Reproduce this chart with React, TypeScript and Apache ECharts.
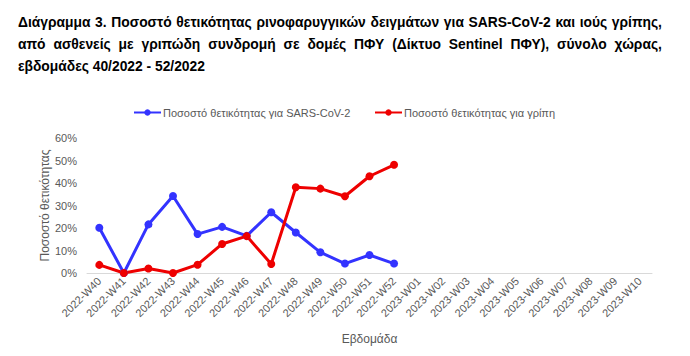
import React, { useEffect, useRef } from "react";
import * as echarts from "echarts";

const weeks = [
  "2022-W40", "2022-W41", "2022-W42", "2022-W43", "2022-W44", "2022-W45", "2022-W46",
  "2022-W47", "2022-W48", "2022-W49", "2022-W50", "2022-W51", "2022-W52",
  "2023-W01", "2023-W02", "2023-W03", "2023-W04", "2023-W05", "2023-W06",
  "2023-W07", "2023-W08", "2023-W09", "2023-W10",
];
const covidValues = [20.1, 0, 21.6, 34.2, 17.3, 20.5, 16.5, 27.0, 18.0, 9.2, 4.2, 8.0, 4.2];
const fluValues = [3.6, 0, 2.0, 0, 3.7, 12.9, 16.4, 4.0, 38.1, 37.5, 34.1, 43.0, 48.1];
const covidName = "Ποσοστό θετικότητας για SARS-CoV-2";
const fluName = "Ποσοστό θετικότητας για γρίπη";
const titleLines = [
  "Διάγραμμα 3. Ποσοστό θετικότητας ρινοφαρυγγικών δειγμάτων για SARS-CoV-2 και ιούς γρίπης,",
  "από ασθενείς με γριπώδη συνδρομή σε δομές ΠΦΥ (Δίκτυο Sentinel ΠΦΥ), σύνολο χώρας,",
  "εβδομάδες 40/2022 - 52/2022",
];
const yAxisName = "Ποσοστό θετικότητας";
const xAxisName = "Εβδομάδα";

const FONT = "'Liberation Sans', sans-serif";

function measure(text: string, font: string) {
  const c = document.createElement("canvas").getContext("2d")!;
  c.font = font;
  return c.measureText(text).width;
}

export default function App() {
  const ref = useRef<HTMLDivElement>(null);
  useEffect(() => {
    const chart = echarts.init(ref.current!, undefined, { renderer: "svg" });
    const titleFont = `bold 14.5px ${FONT}`;
    const graphics: any[] = [];
    const left = 18, right = 662;
    const spaceW = measure(" ", titleFont);
    const natural = measure(titleLines[0], titleFont);
    const scale = Math.min(1, (right - left) / (natural + 2 * spaceW));
    titleLines.forEach((line, i) => {
      const y = 14 + i * 22;
      if (i < 2) {
        const words = line.split(" ");
        const widths = words.map((w) => measure(w, titleFont) * scale);
        const total = widths.reduce((a, b) => a + b, 0);
        const gap = (right - left - total) / (words.length - 1);
        let x = left;
        words.forEach((w, k) => {
          graphics.push({ type: "text", x, y, scaleX: scale, style: { text: w, font: titleFont, fill: "#000" } });
          x += widths[k] + gap;
        });
      } else {
        graphics.push({ type: "text", x: left, y, scaleX: scale, style: { text: line, font: titleFont, fill: "#000" } });
      }
    });

    const legendText = { color: "#595959", fontSize: 11, fontFamily: FONT, padding: [0, 0, 0, -3] };
    chart.setOption({
      animation: false,
      graphic: graphics,
      legend: [
        { data: [covidName], left: 133, top: 107, padding: 0, itemWidth: 27, itemHeight: 8, textStyle: legendText },
        { data: [fluName], left: 374, top: 107, padding: 0, itemWidth: 27, itemHeight: 8, textStyle: legendText },
      ],
      grid: { left: 87, right: 38, top: 138, bottom: 83, containLabel: false },
      xAxis: {
        type: "category",
        data: weeks,
        boundaryGap: true,
        axisLine: { lineStyle: { color: "#d9d9d9", width: 1 } },
        axisTick: { show: false },
        axisLabel: { rotate: 45, color: "#595959", fontSize: 11, fontFamily: FONT, interval: 0, margin: 6 },
        name: xAxisName,
        nameLocation: "middle",
        nameGap: 60,
        nameTextStyle: { color: "#595959", fontSize: 12, fontFamily: FONT },
      },
      yAxis: {
        type: "value",
        min: 0,
        max: 60,
        interval: 10,
        axisLine: { show: false },
        axisTick: { show: false },
        splitLine: { show: false },
        axisLabel: { formatter: "{value}%", color: "#595959", fontSize: 11, fontFamily: FONT, margin: 10 },
        name: yAxisName,
        nameLocation: "middle",
        nameGap: 36,
        nameMoveOverlap: false,
        nameTextStyle: { color: "#595959", fontSize: 12, fontFamily: FONT },
      },
      series: [
        {
          name: covidName, type: "line", data: covidValues, symbol: "circle", symbolSize: 8,
          lineStyle: { color: "#3333ff", width: 3 }, itemStyle: { color: "#3333ff" },
        },
        {
          name: fluName, type: "line", data: fluValues, symbol: "circle", symbolSize: 8,
          lineStyle: { color: "#ee0000", width: 3 }, itemStyle: { color: "#ee0000" },
        },
      ],
    });
    return () => chart.dispose();
  }, []);
  return <div ref={ref} style={{ width: 690, height: 356, position: "absolute", left: 0, top: 0 }} />;
}
